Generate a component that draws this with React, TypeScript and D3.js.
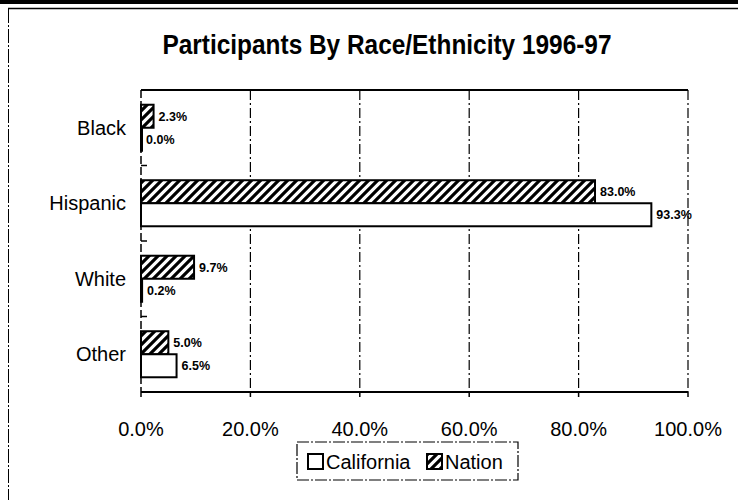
import * as d3 from 'd3';
import * as React from 'react';

const categories = ['Black', 'Hispanic', 'White', 'Other'];
const seriesNames = ['Nation', 'California'];
const nation = [2.3, 83.0, 9.7, 5.0];
const california = [0.0, 93.3, 0.2, 6.5];
const xTicks = [0, 20, 40, 60, 80, 100];
const legendItems = [
  { name: 'California', hatched: false },
  { name: 'Nation', hatched: true },
];

const width = 738;
const height = 500;
const margin = { top: 90, right: 50, bottom: 108, left: 141 };
const font = '"Liberation Sans Narrow", "Arial Narrow", "Liberation Sans", Arial, sans-serif';

export default function App() {
  const x = d3
    .scaleLinear()
    .domain([0, 100])
    .range([margin.left, width - margin.right]);
  const y = d3
    .scaleBand<string>()
    .domain(categories)
    .range([margin.top, height - margin.bottom])
    .padding(0);
  const inner = d3
    .scaleBand<string>()
    .domain(seriesNames)
    .range([0, y.bandwidth()])
    .paddingInner(0)
    .paddingOuter(0.64);

  const values: Record<string, number[]> = { Nation: nation, California: california };
  const plotTop = margin.top;
  const plotBottom = height - margin.bottom;

  return (
    <svg
      width={width}
      height={height}
      style={{ position: 'absolute', left: 0, top: 0, background: '#fff' }}
    >
      <defs>
        <pattern id="hatch" patternUnits="userSpaceOnUse" width="9" height="9">
          <rect width="9" height="9" fill="#fff" />
          <path d="M-2,2 l4,-4 M0,9 l9,-9 M7,11 l4,-4" stroke="#000" strokeWidth="3.2" />
        </pattern>
      </defs>

      {/* scan frame */}
      <rect x={0} y={0} width={width} height={4} fill="#000" />
      <line x1={8} x2={width} y1={8.5} y2={8.5} stroke="#000" strokeWidth={1.5} />
      <line x1={8.5} x2={8.5} y1={9} y2={height} stroke="#000" strokeWidth={1} strokeDasharray="14,2,2,2" />

      <text
        x={387}
        y={54}
        textAnchor="middle"
        fontFamily={font}
        fontWeight="bold"
        fontSize={27}
        textLength={449}
        lengthAdjust="spacingAndGlyphs"
      >
        Participants By Race/Ethnicity 1996-97
      </text>

      {/* gridlines */}
      {xTicks.slice(1).map((t) => (
        <line
          key={t}
          x1={x(t)}
          x2={x(t)}
          y1={plotTop}
          y2={plotBottom}
          stroke="#000"
          strokeWidth={1.2}
          strokeDasharray="10,3,2,3"
        />
      ))}

      {/* bars */}
      {categories.map((c, i) => (
        <g key={c}>
          {seriesNames.map((s) => {
            const v = values[s][i];
            const y0 = (y(c) ?? 0) + (inner(s) ?? 0);
            return (
              <g key={s}>
                <rect
                  x={x(0)}
                  y={y0}
                  width={Math.max(x(v) - x(0), 1)}
                  height={inner.bandwidth()}
                  fill={s === 'Nation' ? 'url(#hatch)' : '#fff'}
                  stroke="#000"
                  strokeWidth={2}
                />
                <text
                  x={x(v) + 5}
                  y={y0 + inner.bandwidth() / 2}
                  dy="0.35em"
                  fontFamily={font}
                  fontWeight="bold"
                  fontSize={12.5}
                >
                  {v.toFixed(1)}%
                </text>
              </g>
            );
          })}
        </g>
      ))}

      {/* plot frame */}
      <line x1={x(0)} x2={x(100)} y1={plotTop} y2={plotTop} stroke="#000" strokeWidth={2} />
      <line x1={x(0)} x2={x(100)} y1={plotBottom} y2={plotBottom} stroke="#000" strokeWidth={2} />
      <line
        x1={x(0)}
        x2={x(0)}
        y1={plotTop}
        y2={plotBottom}
        stroke="#000"
        strokeWidth={1.5}
        strokeDasharray="8,3"
      />

      {/* category axis */}
      {categories.map((c) => (
        <g key={c}>
          <line
            x1={x(0)}
            x2={x(0) + 6}
            y1={(y(c) ?? 0) + y.bandwidth()}
            y2={(y(c) ?? 0) + y.bandwidth()}
            stroke="#000"
            strokeWidth={1.5}
          />
          <text
            x={126}
            y={(y(c) ?? 0) + y.bandwidth() / 2}
            dy="0.35em"
            textAnchor="end"
            fontFamily={font}
            fontSize={20}
          >
            {c}
          </text>
        </g>
      ))}

      {/* value axis */}
      {xTicks.map((t) => (
        <g key={t}>
          <line x1={x(t)} x2={x(t)} y1={plotBottom} y2={plotBottom + 5} stroke="#000" strokeWidth={1.5} />
          <text
            x={x(t)}
            y={436}
            textAnchor="middle"
            fontFamily={font}
            fontSize={20}
          >
            {t.toFixed(1)}%
          </text>
        </g>
      ))}

      {/* legend */}
      <rect
        x={297}
        y={442}
        width={221}
        height={38}
        fill="#fff"
        stroke="#000"
        strokeWidth={1.2}
        strokeDasharray="12,2,2,2"
      />
      {legendItems.map((d, i) => {
        const lx = i === 0 ? 308 : 427;
        return (
          <g key={d.name}>
            <rect
              x={lx}
              y={454}
              width={15}
              height={15}
              fill={d.hatched ? 'url(#hatch)' : '#fff'}
              stroke="#000"
              strokeWidth={2}
            />
            <text x={lx + 18} y={462} dy="0.35em" fontFamily={font} fontSize={20}>
              {d.name}
            </text>
          </g>
        );
      })}
    </svg>
  );
}
